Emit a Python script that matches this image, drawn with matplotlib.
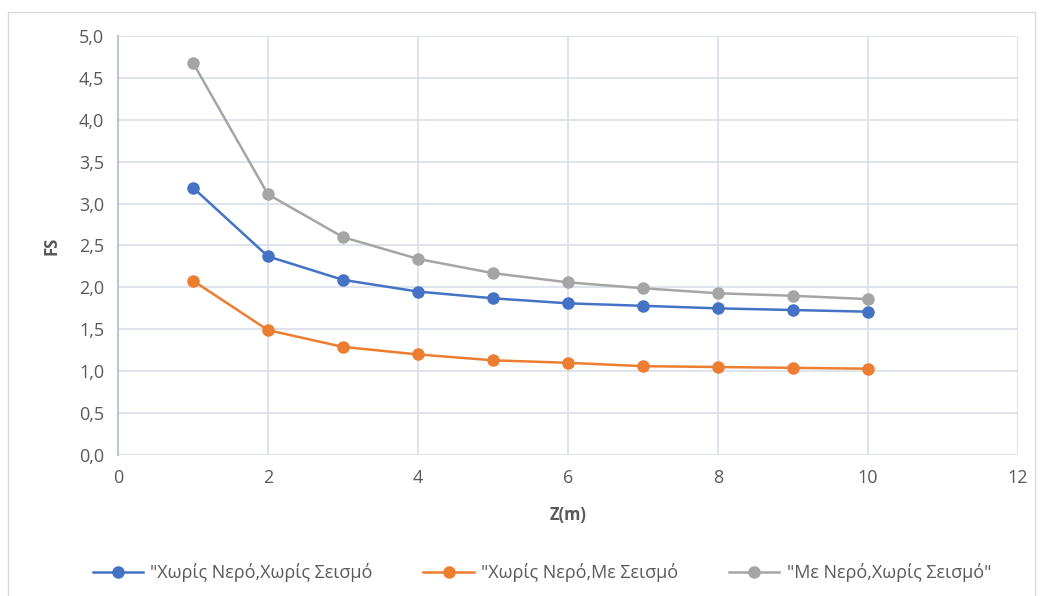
import matplotlib.pyplot as plt
from matplotlib.patches import Rectangle
from matplotlib.ticker import FuncFormatter, MultipleLocator

plt.rcParams['font.family'] = ['Open Sans', 'DejaVu Sans']

# --- дані ---
z = [1, 2, 3, 4, 5, 6, 7, 8, 9, 10]
fs_no_water_no_quake = [3.19, 2.37, 2.09, 1.95, 1.87, 1.81, 1.78, 1.75, 1.73, 1.71]
fs_no_water_quake = [2.08, 1.49, 1.29, 1.20, 1.13, 1.10, 1.06, 1.05, 1.04, 1.03]
fs_water_no_quake = [4.68, 3.11, 2.60, 2.34, 2.17, 2.06, 1.99, 1.93, 1.90, 1.86]

labels = ['"Χωρίς Νερό,Χωρίς Σεισμό',
          '"Χωρίς Νερό,Με Σεισμό',
          '"Με Νερό,Χωρίς Σεισμό"']
colors = ['#4472C4', '#ED7D31', '#A5A5A5']

text_col = '#595959'
grid_col = '#D9DEE8'

fig = plt.figure(figsize=(10.42, 5.96), dpi=100)
# рамка навколо діаграми
fig.patches.append(Rectangle((8 / 1042, -0.05), 1027 / 1042, 1.05 - 12 / 596,
                             transform=fig.transFigure, fill=False,
                             edgecolor='#D9D9D9', linewidth=1.0))

ax = fig.add_axes([118 / 1042, 1 - 455 / 596, 900 / 1042, 419 / 596])

for y, lab, c in zip([fs_no_water_no_quake, fs_no_water_quake, fs_water_no_quake], labels, colors):
    ax.plot(z, y, color=c, linewidth=1.8, marker='o', markersize=8, label=lab, zorder=3)

ax.set_xlim(0, 12)
ax.set_ylim(0, 5)
ax.xaxis.set_major_locator(MultipleLocator(2))
ax.yaxis.set_major_locator(MultipleLocator(0.5))
ax.yaxis.set_major_formatter(FuncFormatter(lambda v, p: f'{v:.1f}'.replace('.', ',')))

ax.grid(True, color=grid_col, linewidth=1.2)
ax.set_axisbelow(True)
for s in ['top', 'right', 'bottom']:
    ax.spines[s].set_visible(False)
ax.spines['left'].set_color('#BFC6D3')
ax.spines['left'].set_linewidth(1.5)
ax.tick_params(length=0, labelsize=13, colors=text_col, pad=10)

ax.set_xlabel('Z(m)', fontsize=12, fontweight='bold', color=text_col, labelpad=14)
ax.set_ylabel('FS', fontsize=12, fontweight='bold', color=text_col, labelpad=13)

leg = fig.legend(loc='center', bbox_to_anchor=(0.52, 1 - 573 / 596), ncol=3,
                 frameon=False, fontsize=13, handlelength=2.8, columnspacing=2.8,
                 handletextpad=0.4, labelcolor=text_col)

fig.savefig('out.png', dpi=100)
